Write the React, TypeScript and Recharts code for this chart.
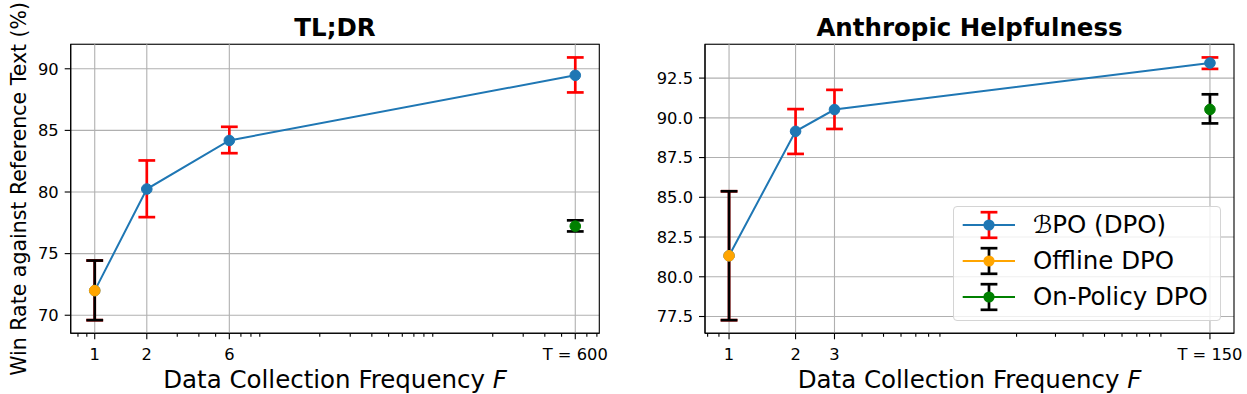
import React from 'react';
import {
  LineChart,
  Line,
  XAxis,
  YAxis,
  CartesianGrid,
  ErrorBar,
  ReferenceLine,
  ReferenceArea,
  Legend,
} from 'recharts';

const FONT = '"DejaVu Sans", sans-serif';
const BLUE = '#1f77b4';
const ORANGE = '#ffa500';
const GREEN = '#008000';
const GRID = '#b0b0b0';

// TL;DR panel
const tldrBpoX = [1, 2, 6, 600];
const tldrBpoY = [72.0, 80.24, 84.18, 89.47];
const tldrBpoLow = [69.6, 77.96, 83.15, 88.08];
const tldrBpoHigh = [74.44, 82.56, 85.29, 90.92];
const tldrOfflineX = [1];
const tldrOfflineY = [72.0];
const tldrOfflineLow = [69.6];
const tldrOfflineHigh = [74.44];
const tldrOnPolicyX = [600];
const tldrOnPolicyY = [77.23];
const tldrOnPolicyLow = [76.8];
const tldrOnPolicyHigh = [77.7];
const tldrXTicks = [1, 2, 6, 600];
const tldrXLabels = ['1', '2', '6', 'T = 600'];
const tldrYTicks = [70, 75, 80, 85, 90];

// Anthropic Helpfulness panel
const hhBpoX = [1, 2, 3, 150];
const hhBpoY = [81.32, 89.15, 90.52, 93.45];
const hhBpoLow = [77.27, 87.73, 89.3, 93.08];
const hhBpoHigh = [85.38, 90.55, 91.76, 93.8];
const hhOfflineX = [1];
const hhOfflineY = [81.32];
const hhOfflineLow = [77.27];
const hhOfflineHigh = [85.38];
const hhOnPolicyX = [150];
const hhOnPolicyY = [90.53];
const hhOnPolicyLow = [89.65];
const hhOnPolicyHigh = [91.48];
const hhXTicks = [1, 2, 3, 150];
const hhXLabels = ['1', '2', '3', 'T = 150'];
const hhYTicks = [77.5, 80, 82.5, 85, 87.5, 90, 92.5];

const legendNames = ['\u212CPO (DPO)', 'Offline DPO', 'On-Policy DPO'];
const legendLine = [BLUE, ORANGE, GREEN];
const legendErr = ['red', '#000', '#000'];

const rows = (xs: number[], ys: number[], lo: number[], hi: number[]) =>
  xs.map((x, i) => ({ x, y: ys[i], err: [ys[i] - lo[i], hi[i] - ys[i]] }));

// matplotlib style 5% margins
const yDomain = (lows: number[], highs: number[]) => {
  const lo = Math.min(...lows);
  const hi = Math.max(...highs);
  const m = (hi - lo) * 0.05;
  return [lo - m, hi + m];
};
const xDomain = (xs: number[]) => {
  const a = Math.log10(Math.min(...xs));
  const b = Math.log10(Math.max(...xs));
  const m = (b - a) * 0.05;
  return [10 ** (a - m), 10 ** (b + m)];
};
const minorTicks = (dom: number[], majors: number[]) => {
  const out: number[] = [];
  for (let k = Math.floor(Math.log10(dom[0])); k <= Math.ceil(Math.log10(dom[1])); k++) {
    for (let m = 2; m <= 9; m++) {
      const v = +(m * 10 ** k).toPrecision(6);
      if (v >= dom[0] && v <= dom[1] && !majors.includes(v)) out.push(v);
    }
  }
  return out;
};

const XTick = (props: any) => {
  const { x, y, payload, majors, labels } = props;
  const idx = majors.indexOf(payload.value);
  const major = idx >= 0;
  return (
    <g>
      <line x1={x} x2={x} y1={y} y2={y + (major ? 6 : 3.5)} stroke="#000" strokeWidth={1.1} />
      {major && (
        <text x={x} y={y + 15} dy="0.71em" textAnchor="middle" fontSize={16.3} fontFamily={FONT} fill="#000">
          {labels[idx]}
        </text>
      )}
    </g>
  );
};

const XTitle = (props: any) => {
  const { viewBox } = props;
  const cx = viewBox.x + viewBox.width / 2;
  return (
    <text x={cx} y={viewBox.y + 55} textAnchor="middle" fontSize={24.5} fontFamily={FONT} fill="#000">
      Data Collection Frequency <tspan fontStyle="italic">F</tspan>
    </text>
  );
};

const YTitle = (props: any) => {
  const { viewBox } = props;
  const cy = viewBox.y + viewBox.height / 2;
  return (
    <text
      x={26}
      y={cy}
      textAnchor="middle"
      fontSize={20.5}
      fontFamily={FONT}
      fill="#000"
      transform={`rotate(-90, 26, ${cy})`}
    >
      Win Rate against Reference Text (%)
    </text>
  );
};

const Handle = ({ line, err, marker }: { line: string; err: string; marker: string }) => (
  <svg width={72} height={36} style={{ display: 'block' }}>
    <line x1={8.7} x2={61} y1={18} y2={18} stroke={line} strokeWidth={2} />
    <line x1={35} x2={35} y1={5.2} y2={30.8} stroke={err} strokeWidth={2.7} />
    <line x1={26.6} x2={43.4} y1={5.2} y2={5.2} stroke={err} strokeWidth={2.7} />
    <line x1={26.6} x2={43.4} y1={30.8} y2={30.8} stroke={err} strokeWidth={2.7} />
    <circle cx={35} cy={18} r={5.6} fill={marker} />
  </svg>
);

const LegendBox = () => (
  <div
    style={{
      width: 268,
      height: 115,
      boxSizing: 'border-box',
      border: '1px solid #d4d4d4',
      borderRadius: 4,
      background: 'rgba(255,255,255,0.8)',
      fontFamily: FONT,
      fontSize: 24.5,
      color: '#000',
    }}
  >
    {legendNames.map((name, i) => (
      <div key={name} style={{ display: 'flex', alignItems: 'center', height: 36 }}>
        <Handle line={legendLine[i]} err={legendErr[i]} marker={legendLine[i]} />
        <span style={{ marginLeft: 7, whiteSpace: 'nowrap', lineHeight: '36px' }}>{name}</span>
      </div>
    ))}
  </div>
);

interface PanelProps {
  width: number;
  yAxisWidth: number;
  marginRight: number;
  bpo: any[];
  offline: any[];
  onPolicy: any[];
  xTicks: number[];
  xLabels: string[];
  yTicks: number[];
  yFmt: (v: number) => string;
  yDom: number[];
  xDom: number[];
  yLabel?: boolean;
  legend?: boolean;
}

function Panel(p: PanelProps) {
  const allTicks = [...p.xTicks, ...minorTicks(p.xDom, p.xTicks)].sort((a, b) => a - b);
  const spine = { stroke: '#000', strokeWidth: 1.1 };
  const dot = (c: string) => ({ r: 5.3, fill: c, stroke: c, strokeWidth: 1 });
  return (
    <LineChart
      width={p.width}
      height={394}
      margin={{ top: 44.3, right: p.marginRight, bottom: 0, left: 0 }}
    >
      <CartesianGrid vertical={false} stroke={GRID} strokeWidth={1.1} />
      {p.xTicks.map((t) => (
        <ReferenceLine key={t} x={t} stroke={GRID} strokeWidth={1.1} />
      ))}
      <XAxis
        dataKey="x"
        type="number"
        scale="log"
        domain={p.xDom}
        allowDataOverflow
        ticks={allTicks}
        interval={0}
        height={60.7}
        tickSize={0}
        tickMargin={0}
        tickLine={false}
        axisLine={spine}
        tick={<XTick majors={p.xTicks} labels={p.xLabels} />}
        label={{ content: <XTitle /> }}
      />
      <YAxis
        type="number"
        domain={p.yDom}
        allowDataOverflow
        ticks={p.yTicks}
        interval={0}
        width={p.yAxisWidth}
        tickSize={6}
        tickMargin={6}
        tickFormatter={p.yFmt}
        tick={{ fontSize: 16.3, fontFamily: FONT, fill: '#000' }}
        axisLine={spine}
        tickLine={spine}
        label={p.yLabel ? { content: <YTitle /> } : undefined}
      />
      <Line
        data={p.bpo}
        dataKey="y"
        name={legendNames[0]}
        stroke={BLUE}
        strokeWidth={2}
        dot={dot(BLUE)}
        isAnimationActive={false}
      >
        <ErrorBar dataKey="err" direction="y" width={8.4} strokeWidth={2.7} stroke="red" isAnimationActive={false} />
      </Line>
      <Line
        data={p.offline}
        dataKey="y"
        name={legendNames[1]}
        stroke={ORANGE}
        strokeWidth={2}
        dot={dot(ORANGE)}
        isAnimationActive={false}
      >
        <ErrorBar dataKey="err" direction="y" width={8.4} strokeWidth={2.7} stroke="#000" isAnimationActive={false} />
      </Line>
      <Line
        data={p.onPolicy}
        dataKey="y"
        name={legendNames[2]}
        stroke={GREEN}
        strokeWidth={2}
        dot={dot(GREEN)}
        isAnimationActive={false}
      >
        <ErrorBar dataKey="err" direction="y" width={8.4} strokeWidth={2.7} stroke="#000" isAnimationActive={false} />
      </Line>
      <ReferenceArea
        x1={p.xDom[0]}
        x2={p.xDom[1]}
        y1={p.yDom[0]}
        y2={p.yDom[1]}
        fill="none"
        fillOpacity={0}
        stroke="#000"
        strokeWidth={1.1}
        ifOverflow="visible"
      />
      {p.legend && (
        <Legend
          layout="vertical"
          align="center"
          verticalAlign="middle"
          wrapperStyle={{ left: 333, top: 206, width: 268, height: 115 }}
          content={<LegendBox />}
        />
      )}
    </LineChart>
  );
}

export default function App() {
  const tldrYDom = yDomain([...tldrBpoLow, ...tldrOfflineLow, ...tldrOnPolicyLow], [...tldrBpoHigh, ...tldrOfflineHigh, ...tldrOnPolicyHigh]);
  const hhYDom = yDomain([...hhBpoLow, ...hhOfflineLow, ...hhOnPolicyLow], [...hhBpoHigh, ...hhOfflineHigh, ...hhOnPolicyHigh]);
  return (
    <div style={{ position: 'absolute', left: 0, top: 0, width: 1247, height: 394, background: '#fff' }}>
      <div style={{ position: 'absolute', left: 0, top: 0 }}>
        <Panel
          width={620}
          yAxisWidth={70.7}
          marginRight={20.7}
          bpo={rows(tldrBpoX, tldrBpoY, tldrBpoLow, tldrBpoHigh)}
          offline={rows(tldrOfflineX, tldrOfflineY, tldrOfflineLow, tldrOfflineHigh)}
          onPolicy={rows(tldrOnPolicyX, tldrOnPolicyY, tldrOnPolicyLow, tldrOnPolicyHigh)}
          xTicks={tldrXTicks}
          xLabels={tldrXLabels}
          yTicks={tldrYTicks}
          yFmt={(v) => String(v)}
          yDom={tldrYDom}
          xDom={xDomain([...tldrBpoX, ...tldrOnPolicyX])}
          yLabel
        />
      </div>
      <div style={{ position: 'absolute', left: 620, top: 0 }}>
        <Panel
          width={627}
          yAxisWidth={85}
          marginRight={13}
          bpo={rows(hhBpoX, hhBpoY, hhBpoLow, hhBpoHigh)}
          offline={rows(hhOfflineX, hhOfflineY, hhOfflineLow, hhOfflineHigh)}
          onPolicy={rows(hhOnPolicyX, hhOnPolicyY, hhOnPolicyLow, hhOnPolicyHigh)}
          xTicks={hhXTicks}
          xLabels={hhXLabels}
          yTicks={hhYTicks}
          yFmt={(v) => v.toFixed(1)}
          yDom={hhYDom}
          xDom={xDomain([...hhBpoX, ...hhOnPolicyX])}
          legend
        />
      </div>
      <svg width={1247} height={394} style={{ position: 'absolute', left: 0, top: 0, pointerEvents: 'none' }}>
        <text x={335} y={36} textAnchor="middle" fontSize={24.5} fontWeight="bold" fontFamily={FONT} fill="#000">
          TL;DR
        </text>
        <text x={969.5} y={36} textAnchor="middle" fontSize={24.5} fontWeight="bold" fontFamily={FONT} fill="#000">
          Anthropic Helpfulness
        </text>
      </svg>
    </div>
  );
}
